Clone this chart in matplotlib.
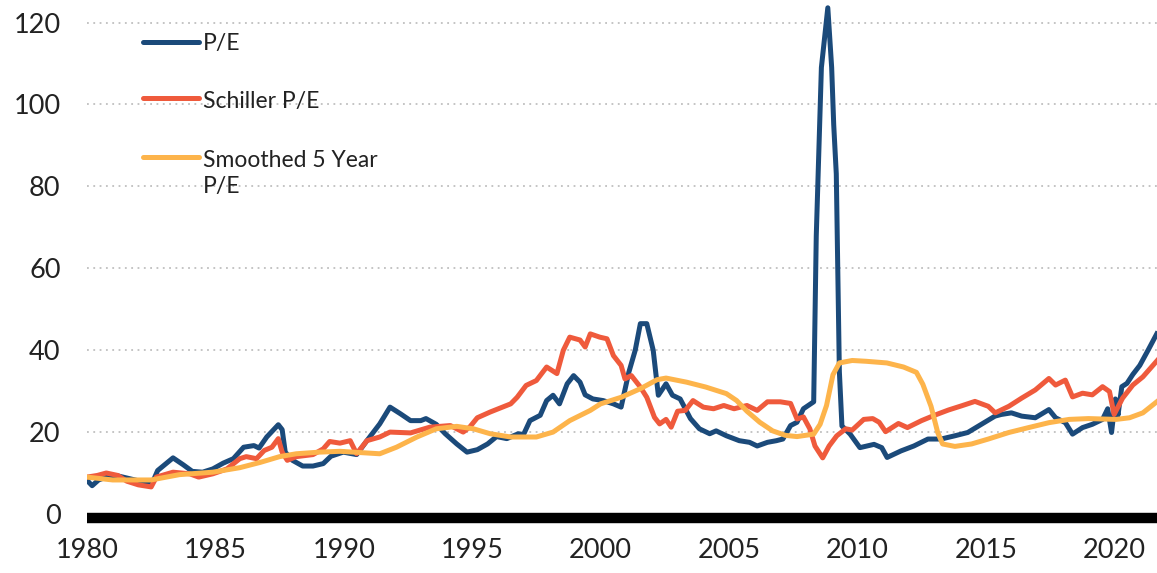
import matplotlib
matplotlib.use('Agg')
from matplotlib import pyplot as plt

plt.rcParams['font.family'] = ['Lato', 'DejaVu Sans']

# P/E (trailing)
pe_x = [1980.0, 1980.2, 1980.45, 1980.8, 1981.2, 1981.6, 1982.0, 1982.4, 1982.6, 1982.75,
        1983.0, 1983.35, 1983.75, 1984.1, 1984.5, 1984.9, 1985.3, 1985.7, 1986.1, 1986.5,
        1986.7, 1987.0, 1987.45, 1987.6, 1987.72, 1988.0, 1988.4, 1988.8, 1989.2, 1989.5,
        1989.98, 1990.5, 1990.9, 1991.4, 1991.8, 1992.2, 1992.6, 1993.0, 1993.2, 1993.6,
        1993.95, 1994.4, 1994.8, 1995.2, 1995.6, 1995.95, 1996.35, 1996.8, 1997.0, 1997.25,
        1997.65, 1997.9, 1998.15, 1998.4, 1998.7, 1998.95, 1999.2, 1999.4, 1999.7, 2000.1,
        2000.5, 2000.8, 2001.1, 2001.35, 2001.55, 2001.8, 2002.05, 2002.25, 2002.55, 2002.8,
        2003.1, 2003.5, 2003.85, 2004.25, 2004.5, 2004.9, 2005.4, 2005.8, 2006.1, 2006.5,
        2006.85, 2007.1, 2007.4, 2007.65, 2007.9, 2008.3, 2008.4, 2008.6, 2008.85, 2009.0,
        2009.08, 2009.18, 2009.3, 2009.4, 2009.72, 2010.1, 2010.65, 2010.95, 2011.16, 2011.7,
        2012.2, 2012.75, 2013.26, 2013.8, 2014.3, 2014.83, 2015.36, 2015.6, 2016.0, 2016.4,
        2016.93, 2017.46, 2017.72, 2018.1, 2018.38, 2018.77, 2019.15, 2019.55, 2019.75, 2019.9,
        2020.05, 2020.15, 2020.3, 2020.5, 2020.73, 2021.0, 2021.33, 2021.66]
pe_y = [8.1, 6.8, 8.2, 9.0, 9.2, 8.6, 8.0, 7.6, 8.3, 10.5,
        11.8, 13.6, 11.9, 10.3, 10.1, 10.9, 12.3, 13.4, 16.2, 16.6,
        16.0, 18.7, 21.7, 20.5, 15.0, 13.0, 11.6, 11.6, 12.2, 14.0,
        15.0, 14.4, 17.8, 21.9, 26.0, 24.4, 22.7, 22.7, 23.2, 21.8,
        19.5, 17.0, 15.0, 15.6, 17.0, 18.8, 18.3, 19.5, 19.3, 22.7,
        24.0, 27.6, 28.9, 26.8, 31.7, 33.7, 32.1, 29.0, 28.0, 27.6,
        26.8, 26.0, 34.5, 39.9, 46.4, 46.4, 39.9, 28.9, 31.7, 28.9,
        28.0, 23.2, 20.7, 19.5, 20.2, 19.0, 17.8, 17.4, 16.5, 17.4,
        17.8, 18.2, 21.5, 22.3, 25.6, 27.3, 67.8, 109.0, 123.6, 109.0,
        95.0, 83.0, 34.7, 21.4, 19.4, 16.1, 16.9, 16.1, 13.7, 15.3,
        16.5, 18.2, 18.2, 19.0, 19.8, 21.8, 23.8, 24.2, 24.6, 23.8,
        23.4, 25.4, 23.4, 22.2, 19.4, 21.0, 21.8, 23.0, 25.6, 19.8,
        28.0, 24.0, 31.0, 31.8, 34.0, 36.2, 40.0, 43.9]

# Shiller CAPE
cape_x = [1980.0, 1980.4, 1980.75, 1981.2, 1981.55, 1982.0, 1982.5, 1982.7, 1983.35, 1984.0,
          1984.35, 1984.9, 1985.45, 1985.95, 1986.2, 1986.6, 1986.9, 1987.2, 1987.45, 1987.6,
          1987.8, 1988.15, 1988.8, 1989.2, 1989.45, 1989.85, 1990.25, 1990.5, 1990.9, 1991.4,
          1991.8, 1992.6, 1993.35, 1994.15, 1994.65, 1994.9, 1995.2, 1995.7, 1996.1, 1996.5,
          1996.75, 1997.1, 1997.5, 1997.9, 1998.3, 1998.55, 1998.8, 1999.2, 1999.4, 1999.6,
          1999.97, 2000.25, 2000.5, 2000.8, 2000.95, 2001.2, 2001.55, 2001.8, 2002.1, 2002.3,
          2002.55, 2002.75, 2003.0, 2003.3, 2003.6, 2004.0, 2004.4, 2004.8, 2005.2, 2005.7,
          2006.1, 2006.5, 2007.0, 2007.4, 2007.65, 2007.9, 2008.15, 2008.35, 2008.65, 2008.9,
          2009.2, 2009.55, 2009.8, 2010.25, 2010.6, 2010.85, 2011.1, 2011.6, 2011.95, 2012.5,
          2013.0, 2013.55, 2014.05, 2014.58, 2015.1, 2015.37, 2015.9, 2016.4, 2016.93, 2017.46,
          2017.72, 2018.1, 2018.38, 2018.77, 2019.15, 2019.55, 2019.82, 2020.0, 2020.33, 2020.73,
          2021.12, 2021.68]
cape_y = [8.9, 9.3, 9.9, 9.3, 7.9, 7.0, 6.5, 8.9, 10.1, 9.7,
          8.9, 9.7, 10.9, 13.4, 13.9, 13.4, 15.4, 16.2, 18.3, 15.0,
          13.0, 13.9, 14.4, 15.8, 17.6, 17.2, 17.8, 14.6, 17.8, 18.7,
          19.9, 19.7, 21.1, 21.5, 19.9, 21.1, 23.4, 24.8, 25.8, 26.8,
          28.4, 31.3, 32.5, 35.8, 34.2, 39.9, 43.1, 42.4, 40.7, 43.9,
          43.1, 42.7, 38.6, 36.2, 32.9, 33.7, 30.9, 28.4, 23.5, 21.9,
          23.0, 21.1, 25.0, 25.2, 27.6, 26.0, 25.6, 26.4, 25.6, 26.4,
          25.2, 27.3, 27.3, 26.9, 23.1, 23.6, 20.7, 16.5, 13.6, 16.5,
          19.0, 20.7, 20.4, 23.0, 23.2, 22.3, 20.0, 22.0, 21.0, 22.7,
          24.0, 25.3, 26.3, 27.4, 26.2, 24.6, 26.2, 28.2, 30.2, 33.0,
          31.4, 32.6, 28.5, 29.4, 29.0, 31.0, 29.8, 24.2, 28.2, 31.4,
          33.4, 37.4]

# Smoothed 5 year P/E
sm_x = [1980.0, 1981.0, 1982.5, 1983.6, 1984.9, 1985.95, 1986.75, 1987.5, 1988.15, 1989.05,
        1989.85, 1991.4, 1992.05, 1992.85, 1993.6, 1994.4, 1995.05, 1995.7, 1996.5, 1997.5,
        1998.15, 1998.8, 1999.6, 2000.0, 2000.8, 2001.55, 2002.2, 2002.55, 2003.35, 2004.1,
        2004.9, 2005.3, 2005.7, 2006.2, 2006.7, 2007.2, 2007.65, 2008.3, 2008.55, 2008.8,
        2009.05, 2009.3, 2009.8, 2010.35, 2011.15, 2011.8, 2012.3, 2012.55, 2012.87, 2013.13,
        2013.32, 2013.8, 2014.45, 2015.1, 2015.9, 2016.67, 2017.46, 2018.25, 2019.0, 2020.08,
        2020.6, 2021.12, 2021.68]
sm_y = [8.9, 8.2, 8.2, 9.5, 10.1, 11.2, 12.5, 13.9, 14.6, 15.0,
        15.2, 14.6, 16.2, 18.7, 20.7, 21.3, 20.7, 19.5, 18.7, 18.7,
        19.9, 22.7, 25.2, 26.8, 28.4, 30.5, 32.7, 33.1, 32.1, 30.9,
        29.3, 27.6, 25.0, 22.3, 20.2, 19.1, 18.8, 19.4, 21.8, 26.4,
        33.9, 36.8, 37.4, 37.2, 36.8, 35.8, 34.5, 31.6, 26.2, 19.8,
        17.0, 16.4, 17.0, 18.2, 19.8, 21.0, 22.2, 23.0, 23.2, 23.0,
        23.4, 24.6, 27.4]

labels = ['P/E', 'Schiller P/E', 'Smoothed 5 Year\nP/E']
colors = ['#1B4A7A', '#EF5A3C', '#FDB44B']
yticks = [0, 20, 40, 60, 80, 100, 120]
xticks = [1980, 1985, 1990, 1995, 2000, 2005, 2010, 2015, 2020]

fig = plt.figure(figsize=(11.57, 5.73), dpi=100)
ax = fig.add_axes([0.0752, 0.0824, 0.9248, 0.9176])

series = [(pe_x, pe_y), (cape_x, cape_y), (sm_x, sm_y)]
for i, (xs, ys) in enumerate(series):
    ax.plot(xs, ys, color=colors[i], lw=3.6, solid_joinstyle='round', zorder=3 + i)

ax.axhline(-1.2, color='black', lw=7.5, zorder=6, solid_capstyle='butt')

ax.set_xlim(1980, 2021.67)
ax.set_ylim(-3, 125.5)
ax.set_yticks(yticks)
ax.set_xticks(xticks)
ax.yaxis.grid(True, ls=(0, (1, 2.5)), color='#BFBFBF', lw=1.3)
ax.set_axisbelow(True)
ax.tick_params(axis='both', length=0, labelsize=19.5, colors='#222222')
ax.tick_params(axis='y', pad=19)
ax.tick_params(axis='x', pad=9)
for s in ax.spines.values():
    s.set_visible(False)

# legend drawn by hand so the wrapped label sits like the original
# (text y is the baseline of the last line of each label)
handle_y = [0.9207, 0.8130, 0.7020]
text_y = [0.9049, 0.7946, 0.6320]
for i in range(3):
    ax.plot([0.0523, 0.1047], [handle_y[i], handle_y[i]], transform=ax.transAxes,
            color=colors[i], lw=3.6, solid_capstyle='round', clip_on=False, zorder=7)
    ax.text(0.1084, text_y[i], labels[i], transform=ax.transAxes, fontsize=16.5,
            color='#222222', va='baseline', ha='left', linespacing=1.35, zorder=7)

fig.savefig('out.png', dpi=100)
